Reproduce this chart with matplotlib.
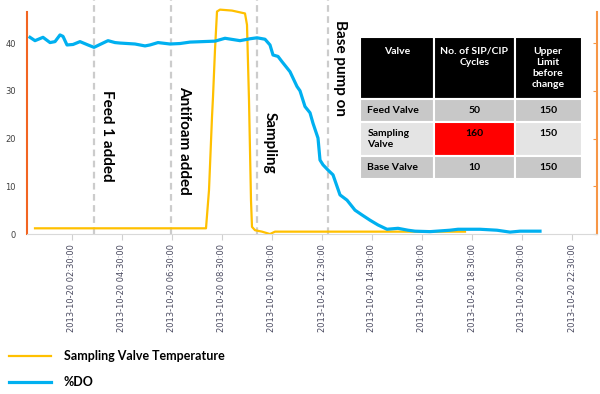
import matplotlib.pyplot as plt
import pandas as pd

# sampling valve temperature (hours after midnight, value)
tempHours = [1.02, 7.86, 7.98, 8.10, 8.14, 8.22, 8.30, 8.42, 8.90, 9.42, 9.50, 9.58, 9.66, 9.70,
             9.82, 10.10, 10.42, 10.62, 18.22]
tempValues = [1.2, 1.2, 9.2, 24.5, 28.7, 38.6, 46.6, 47.0, 46.8, 46.2, 43.8, 28.0, 7.0, 1.5,
              0.8, 0.5, 0.0, 0.5, 0.5]

# %DO
doHours = [0.82, 1.02, 1.34, 1.62, 1.82, 2.02, 2.14, 2.30, 2.54, 2.82, 3.14, 3.38, 3.62, 3.94,
           4.22, 4.42, 5.02, 5.42, 5.62, 5.94, 6.42, 6.82, 7.22, 8.22, 8.62, 9.22, 9.62, 9.90,
           10.22, 10.42, 10.54, 10.74, 10.90, 11.22, 11.50, 11.62, 11.82, 12.02, 12.14, 12.34,
           12.42, 12.54, 12.74, 12.94, 13.22, 13.50, 13.82, 14.10, 14.42, 14.74, 15.10, 15.54,
           15.94, 16.22, 16.82, 17.62, 17.94, 18.82, 19.50, 20.02, 20.42, 21.22]
doValues = [41.2, 40.5, 41.2, 40.1, 40.3, 41.7, 41.4, 39.6, 39.7, 40.3, 39.6, 39.1, 39.7, 40.5,
            40.1, 40.0, 39.8, 39.4, 39.6, 40.1, 39.8, 39.9, 40.2, 40.4, 41.0, 40.5, 40.9, 41.1,
            40.8, 39.6, 37.5, 37.2, 36.1, 34.0, 30.9, 30.0, 26.7, 25.4, 23.2, 20.1,
            15.5, 14.5, 13.4, 12.4, 8.2, 7.1, 5.0, 4.0, 2.9, 1.9, 1.0, 1.2,
            0.8, 0.6, 0.5, 0.8, 1.0, 1.0, 0.8, 0.4, 0.6, 0.6]

# events marked with dashed lines
eventHours = [3.38, 6.46, 9.90, 12.74]
eventLabels = ['Feed 1 added', 'Antifoam added', 'Sampling', 'Base pump on']
eventTextHours = [3.90, 7.00, 10.42, 13.22]
eventTextY = [20.5, 19.7, 19.1, 34.8]

# valve table
tableCols = ['Valve', 'No. of SIP/CIP\nCycles', 'Upper\nLimit\nbefore\nchange']
valveNames = ['Feed Valve', 'Sampling\nValve', 'Base Valve']
sipCipCycles = [50, 160, 10]
upperLimits = [150, 150, 150]

base = pd.Timestamp('2013-10-20')
def toTime(hours):
    return base + pd.to_timedelta(hours, unit='h')

yellow = '#ffc000'
blue = '#00b0f0'
orangeL = '#f26522'
orangeR = '#f79646'

fig = plt.figure(figsize=(6, 3.94), dpi=100)
ax = fig.add_axes([0.045, 0.406, 0.95, 0.5635])

ax.plot(toTime(tempHours), tempValues, color=yellow, lw=1.6, clip_on=False,
        label='Sampling Valve Temperature')
ax.plot(toTime(doHours), doValues, color=blue, lw=2.3, label='%DO')

for h, lab, th, ty in zip(eventHours, eventLabels, eventTextHours, eventTextY):
    ax.axvline(toTime(h), ymin=0, ymax=1.054, color='#cccccc', ls=(0, (3, 2)), lw=1.6,
               clip_on=False, zorder=0)
    ax.text(toTime(th), ty, lab, rotation=270, ha='center', va='center', fontsize=11,
            fontweight='bold', family='Lato', color='black')

ax.set_xlim(toTime(0.7), toTime(23.5))
ax.set_ylim(0, 46.5)
ticks = pd.date_range('2013-10-20 02:30', periods=11, freq='2h')
ax.set_xticks(ticks)
ax.set_xticklabels([t.strftime('%Y-%m-%d %H:%M:%S') for t in ticks], rotation=90,
                   fontsize=6, color='#4a4a60', va='top', ha='center')
ax.set_yticks([0, 10, 20, 30, 40])
ax.tick_params(axis='x', color='#d0d0d0', length=4, pad=3)
ax.tick_params(axis='y', left=False, right=True, direction='in', color=orangeR, length=3,
               labelsize=6, labelcolor='#404040', pad=8)

ax.spines['top'].set_visible(False)
ax.spines['left'].set_color(orangeL)
ax.spines['left'].set_linewidth(1.5)
ax.spines['right'].set_color(orangeR)
ax.spines['right'].set_linewidth(1.5)
ax.spines['bottom'].set_color('#d9d9d9')

# table in the upper right
cellText = [['Valve\n\n\n', 'No. of SIP/CIP\nCycles\n\n', tableCols[2]]]
for name, cyc, lim in zip(valveNames, sipCipCycles, upperLimits):
    if '\n' in name:
        cellText.append([name, str(cyc) + '\n', str(lim) + '\n'])
    else:
        cellText.append([name, str(cyc), str(lim)])
rowCols = ['#c8c8c8', '#e4e4e4', '#c8c8c8']
cellColours = [['black'] * 3]
for i, c in enumerate(rowCols):
    row = [c, c, c]
    if sipCipCycles[i] > upperLimits[i]:
        row[1] = '#ff0000'
    cellColours.append(row)

tbl = ax.table(cellText=cellText, cellColours=cellColours, bbox=[0.584, 0.248, 0.389, 0.640])
tbl.auto_set_font_size(False)
rowH = [61, 22, 34, 22]
colW = [74, 81, 67]
for (r, c), cell in tbl.get_celld().items():
    cell.set_height(rowH[r])
    cell.set_width(colW[c])
    cell.set_edgecolor('white')
    cell.set_linewidth(1.5)
    txt = cell.get_text()
    txt.set_fontsize(7.5)
    txt.set_fontweight('bold')
    txt.set_family('Lato')
    txt.set_linespacing(1.3)
    if r == 0:
        txt.set_color('white')
        cell._loc = 'center'
        txt.set_ha('center')
    elif c == 0:
        cell._loc = 'left'
        txt.set_ha('left')
    else:
        cell._loc = 'center'
        txt.set_ha('center')

fig.legend(loc='upper left', bbox_to_anchor=(-0.004, 0.14), frameon=False,
           handlelength=3.4, handletextpad=1.0, labelspacing=1.15,
           prop={'family': 'Lato', 'weight': 'bold', 'size': 9})

fig.savefig('out.png', dpi=100)
